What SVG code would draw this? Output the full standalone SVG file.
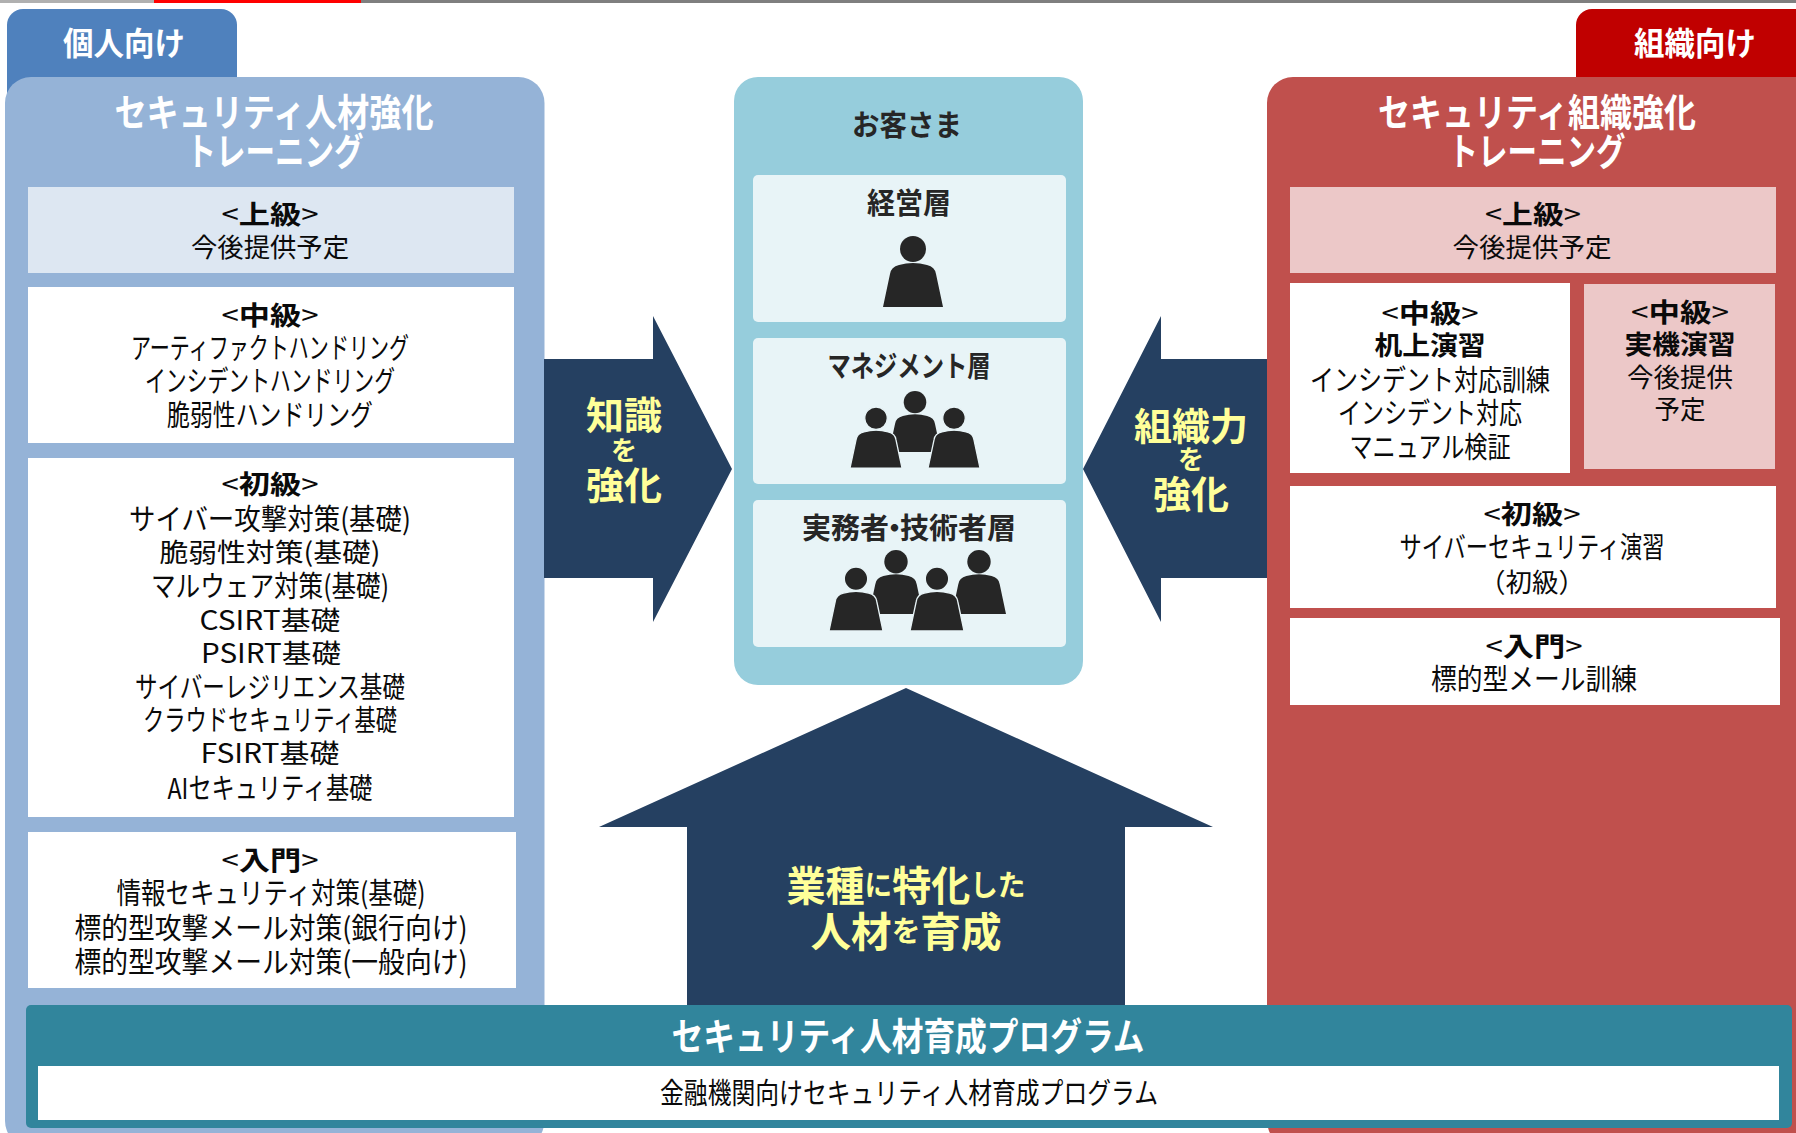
<svg xmlns="http://www.w3.org/2000/svg" xmlns:xlink="http://www.w3.org/1999/xlink" width="1796" height="1133" viewBox="0 0 1796 1133">
<style>
text{font-family:"Noto Sans CJK JP","Noto Sans",sans-serif;text-anchor:middle;dominant-baseline:central;font-size:26.5px;fill:#0a0a0a;transform:translateY(-2px)}
.k{font-size:29px}
.b{font-weight:700}
.h{font-size:38px;font-weight:700;fill:#fff}
.tab{font-size:32px;font-weight:700;fill:#fff}
.d{font-size:29px;font-weight:700;fill:#262626}
.y{font-weight:700;fill:#ffff99;font-size:38px}
.ys{font-size:26px}
.big{font-size:41px}
.sm{font-size:29px}
.pb{fill:#262626}
.pf{fill:#262626;stroke:#e8f4f7;stroke-width:1.5}
.arrow{fill:#254061}
.inner{fill:#e8f4f7}
.wh{fill:#fff}
.pl{fill:#dde7f2}
.pk{fill:#ecc8c8}
</style>
<defs>
<g id="person"><circle cx="30" cy="13" r="13"/><path d="M0,71 L7,38 Q8,31 16,29 Q30,25 44,29 Q52,31 53,38 L60,71Z"/></g>
</defs>
<g id="topbar"><rect x="0" y="0" width="154" height="3" fill="#b0b0b0"/><rect x="154" y="0" width="207" height="3" fill="#ff0000"/><rect x="361" y="0" width="1435" height="3" fill="#7f7f7f"/></g>

<g id="tab-personal"><rect x="7" y="9" width="230" height="100" rx="16" fill="#4f81bd"/><text class="tab" x="124" y="43" textLength="122" lengthAdjust="spacingAndGlyphs">個人向け</text></g>
<g id="tab-org"><rect x="1576" y="9" width="240" height="100" rx="16" fill="#c00000"/><text class="tab" x="1695" y="43" textLength="122" lengthAdjust="spacingAndGlyphs">組織向け</text></g>

<g id="panel-personal">
<rect x="5" y="77" width="539.500" height="1070" rx="26" fill="#95b3d7"/>
<text class="h" x="274" y="111" textLength="319" lengthAdjust="spacingAndGlyphs">セキュリティ人材強化</text>
<text class="h" x="275" y="150" textLength="177" lengthAdjust="spacingAndGlyphs">トレーニング</text>
</g>
<g id="personal-advanced">
<rect class="pl" x="28" y="187" width="486" height="86"/>
<text x="270" y="214" textLength="97" lengthAdjust="spacingAndGlyphs">&lt;<tspan class="b">上級</tspan>&gt;</text>
<text x="270" y="247" textLength="158" lengthAdjust="spacingAndGlyphs">今後提供予定</text>
</g>
<g id="personal-intermediate">
<rect class="wh" x="28" y="287" width="486" height="156"/>
<text x="270" y="315" textLength="97" lengthAdjust="spacingAndGlyphs">&lt;<tspan class="b">中級</tspan>&gt;</text>
<text class="k" x="270" y="348" textLength="278" lengthAdjust="spacingAndGlyphs">アーティファクトハンドリング</text>
<text class="k" x="270" y="381" textLength="250" lengthAdjust="spacingAndGlyphs">インシデントハンドリング</text>
<text class="k" x="270" y="415" textLength="206" lengthAdjust="spacingAndGlyphs">脆弱性ハンドリング</text>
</g>
<g id="personal-beginner">
<rect class="wh" x="28" y="458" width="486" height="359"/>
<text x="270" y="484" textLength="97" lengthAdjust="spacingAndGlyphs">&lt;<tspan class="b">初級</tspan>&gt;</text>
<text class="k" x="270" y="519" textLength="282" lengthAdjust="spacingAndGlyphs">サイバー攻撃対策(基礎)</text>
<text x="270" y="552" textLength="221" lengthAdjust="spacingAndGlyphs">脆弱性対策(基礎)</text>
<text class="k" x="270" y="586" textLength="238" lengthAdjust="spacingAndGlyphs">マルウェア対策(基礎)</text>
<text x="270" y="620" textLength="141" lengthAdjust="spacingAndGlyphs">CSIRT基礎</text>
<text x="271" y="653" textLength="140" lengthAdjust="spacingAndGlyphs">PSIRT基礎</text>
<text class="k" x="270" y="687" textLength="270" lengthAdjust="spacingAndGlyphs">サイバーレジリエンス基礎</text>
<text class="k" x="270" y="720" textLength="254" lengthAdjust="spacingAndGlyphs">クラウドセキュリティ基礎</text>
<text x="270" y="753" textLength="139" lengthAdjust="spacingAndGlyphs">FSIRT基礎</text>
<text class="k" x="270" y="788" textLength="205" lengthAdjust="spacingAndGlyphs">AIセキュリティ基礎</text>
</g>
<g id="personal-intro">
<rect class="wh" x="28" y="832" width="488" height="156"/>
<text x="270" y="860" textLength="97" lengthAdjust="spacingAndGlyphs">&lt;<tspan class="b">入門</tspan>&gt;</text>
<text class="k" x="271" y="893" textLength="309" lengthAdjust="spacingAndGlyphs">情報セキュリティ対策(基礎)</text>
<text class="k" x="271" y="928" textLength="393" lengthAdjust="spacingAndGlyphs">標的型攻撃メール対策(銀行向け)</text>
<text class="k" x="271" y="962" textLength="393" lengthAdjust="spacingAndGlyphs">標的型攻撃メール対策(一般向け)</text>
</g>

<g id="panel-org">
<rect x="1267" y="77" width="560" height="1070" rx="26" fill="#c0504d"/>
<text class="h" x="1537" y="111" textLength="318" lengthAdjust="spacingAndGlyphs">セキュリティ組織強化</text>
<text class="h" x="1537" y="150" textLength="177" lengthAdjust="spacingAndGlyphs">トレーニング</text>
</g>
<g id="org-advanced">
<rect class="pk" x="1290" y="187" width="486" height="86"/>
<text x="1533" y="214" textLength="96" lengthAdjust="spacingAndGlyphs">&lt;<tspan class="b">上級</tspan>&gt;</text>
<text x="1532" y="247" textLength="159" lengthAdjust="spacingAndGlyphs">今後提供予定</text>
</g>
<g id="org-intermediate-desk">
<rect class="wh" x="1290" y="283" width="280" height="190"/>
<text x="1430" y="313" textLength="97" lengthAdjust="spacingAndGlyphs">&lt;<tspan class="b">中級</tspan>&gt;</text>
<text class="b" x="1430" y="345" textLength="111" lengthAdjust="spacingAndGlyphs">机上演習</text>
<text class="k" x="1430" y="380" textLength="240" lengthAdjust="spacingAndGlyphs">インシデント対応訓練</text>
<text class="k" x="1430" y="413" textLength="184" lengthAdjust="spacingAndGlyphs">インシデント対応</text>
<text class="k" x="1430" y="447" textLength="161" lengthAdjust="spacingAndGlyphs">マニュアル検証</text>
</g>
<g id="org-intermediate-live">
<rect class="pk" x="1584" y="284" width="191" height="185"/>
<text x="1680" y="312" textLength="98" lengthAdjust="spacingAndGlyphs">&lt;<tspan class="b">中級</tspan>&gt;</text>
<text class="b" x="1680" y="344" textLength="111" lengthAdjust="spacingAndGlyphs">実機演習</text>
<text x="1680" y="377" textLength="106" lengthAdjust="spacingAndGlyphs">今後提供</text>
<text x="1680" y="409" textLength="51" lengthAdjust="spacingAndGlyphs">予定</text>
</g>
<g id="org-beginner">
<rect class="wh" x="1290" y="486" width="486" height="122"/>
<text x="1532" y="514" textLength="97" lengthAdjust="spacingAndGlyphs">&lt;<tspan class="b">初級</tspan>&gt;</text>
<text class="k" x="1532" y="547" textLength="265" lengthAdjust="spacingAndGlyphs">サイバーセキュリティ演習</text>
<text x="1532" y="582">（初級）</text>
</g>
<g id="org-intro">
<rect class="wh" x="1290" y="618" width="490" height="87"/>
<text x="1534" y="646" textLength="97" lengthAdjust="spacingAndGlyphs">&lt;<tspan class="b">入門</tspan>&gt;</text>
<text class="k" x="1534" y="679" textLength="206" lengthAdjust="spacingAndGlyphs">標的型メール訓練</text>
</g>

<g id="panel-customers">
<rect x="734" y="77" width="349" height="608" rx="24" fill="#96cddc"/>
<text class="d" x="907" y="125" textLength="110" lengthAdjust="spacingAndGlyphs">お客さま</text>
</g>
<g id="customer-executive">
<rect class="inner" x="753" y="175" width="313" height="147" rx="5"/>
<text class="d" x="909" y="203" textLength="84" lengthAdjust="spacingAndGlyphs">経営層</text>
<use href="#person" class="pb" transform="translate(883,236)"/>
</g>
<g id="customer-management">
<rect class="inner" x="753" y="338" width="313" height="146" rx="5"/>
<text class="d" x="909" y="366" textLength="163" lengthAdjust="spacingAndGlyphs">マネジメント層</text>
<use href="#person" class="pb" transform="translate(889,391) scale(.867,.86)"/>
<use href="#person" class="pf" transform="translate(850,407) scale(.867,.86)"/>
<use href="#person" class="pf" transform="translate(928,407) scale(.867,.86)"/>
</g>
<g id="customer-practitioner">
<rect class="inner" x="753" y="500" width="313" height="147" rx="5"/>
<text class="d" x="909" y="528">実務者<tspan dx="-9">・</tspan><tspan dx="-9">技術者層</tspan></text>
<use href="#person" class="pb" transform="translate(869,550) scale(.9)"/>
<use href="#person" class="pb" transform="translate(952,550) scale(.9)"/>
<use href="#person" class="pf" transform="translate(829,567) scale(.9)"/>
<use href="#person" class="pf" transform="translate(910,567) scale(.9)"/>
</g>

<g id="connectors">
<path class="arrow" d="M544,359H653V316L732,469L653,622V578H544Z"/>
<path class="arrow" d="M1267,359H1161V316L1083,469L1161,622V578H1267Z"/>
<path class="arrow" d="M906,688L1213,827H1125V1010H687V827H599Z"/>
</g>
<g id="label-knowledge">
<text class="y" x="624" y="414">知識</text>
<text class="y ys" x="624" y="450">を</text>
<text class="y" x="624" y="484">強化</text>
</g>
<g id="label-org-power">
<text class="y" x="1191" y="425">組織力</text>
<text class="y ys" x="1191" y="459">を</text>
<text class="y" x="1191" y="493">強化</text>
</g>
<g id="label-industry">
<text class="y big" x="906" y="885" textLength="239" lengthAdjust="spacingAndGlyphs">業種<tspan class="sm">に</tspan>特化<tspan class="sm">した</tspan></text>
<text class="y big" x="906" y="931" textLength="191" lengthAdjust="spacingAndGlyphs">人材<tspan class="sm">を</tspan>育成</text>
</g>

<g id="program">
<rect x="26" y="1005" width="1766" height="123" rx="5" fill="#31859c"/>
<rect class="wh" x="38" y="1066" width="1741" height="54"/>
<text class="h" x="908" y="1035" textLength="473" lengthAdjust="spacingAndGlyphs">セキュリティ人材育成プログラム</text>
<text class="k" x="909" y="1093" textLength="498" lengthAdjust="spacingAndGlyphs">金融機関向けセキュリティ人材育成プログラム</text>
</g>
</svg>
